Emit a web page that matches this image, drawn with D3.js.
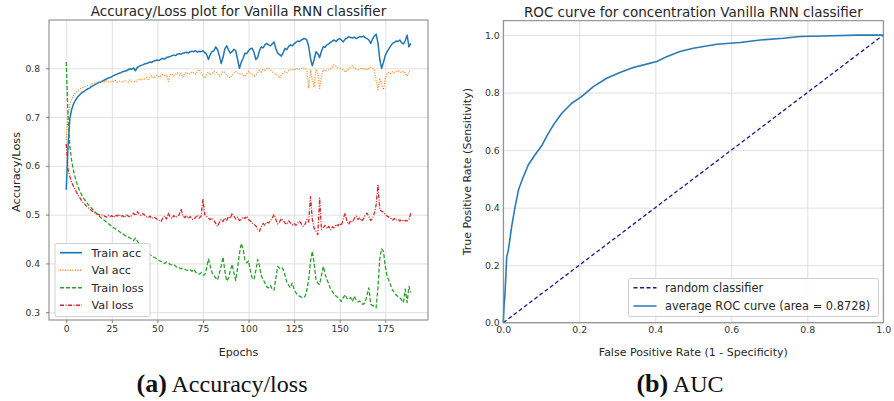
<!DOCTYPE html>
<html>
<head>
<meta charset="utf-8">
<script src="https://cdn.jsdelivr.net/npm/d3@7"></script>
<style>
  body { margin: 0; background: #fff; }
  svg { font-family: "DejaVu Sans", sans-serif; }
  .tick text { fill: #333; }
</style>
</head>
<body>
<div id="chart"></div>
<script>
// Accuracy / loss per epoch
const trainAcc = [
  0.551, 0.640, 0.698, 0.716, 0.727, 0.734, 0.740, 0.744, 0.748, 0.751,
  0.753, 0.756, 0.758, 0.760, 0.763, 0.765, 0.767, 0.769, 0.771, 0.772,
  0.774, 0.776, 0.778, 0.780, 0.781, 0.783, 0.785, 0.787, 0.788, 0.790,
  0.791, 0.793, 0.794, 0.795, 0.797, 0.799, 0.798, 0.801, 0.795, 0.802,
  0.804, 0.806, 0.807, 0.809, 0.810, 0.811, 0.813, 0.812, 0.815, 0.816,
  0.817, 0.816, 0.819, 0.820, 0.819, 0.822, 0.823, 0.824, 0.826, 0.827,
  0.826, 0.829, 0.830, 0.829, 0.831, 0.832, 0.833, 0.831, 0.834, 0.835,
  0.834, 0.836, 0.833, 0.835, 0.834, 0.836, 0.832, 0.829, 0.818, 0.828,
  0.834, 0.836, 0.844, 0.838, 0.826, 0.810, 0.822, 0.840, 0.846, 0.838,
  0.831, 0.834, 0.839, 0.836, 0.818, 0.800, 0.812, 0.820, 0.831, 0.830,
  0.836, 0.840, 0.841, 0.833, 0.818, 0.822, 0.836, 0.844, 0.842, 0.848,
  0.851, 0.848, 0.846, 0.850, 0.854, 0.840, 0.831, 0.828, 0.825, 0.832,
  0.841, 0.838, 0.845, 0.848, 0.846, 0.850, 0.853, 0.856, 0.855, 0.858,
  0.860, 0.861, 0.858, 0.845, 0.820, 0.805, 0.818, 0.834, 0.830, 0.822,
  0.835, 0.844, 0.843, 0.848, 0.850, 0.853, 0.856, 0.858, 0.855, 0.859,
  0.861, 0.858, 0.854, 0.860, 0.862, 0.865, 0.863, 0.862, 0.864, 0.861,
  0.863, 0.865, 0.864, 0.866, 0.863, 0.861, 0.858, 0.851, 0.860, 0.866,
  0.870, 0.852, 0.818, 0.800, 0.812, 0.826, 0.834, 0.840, 0.846, 0.851,
  0.853, 0.856, 0.855, 0.858, 0.852, 0.850, 0.857, 0.868, 0.844, 0.851
];
const valAcc = [
  0.653, 0.705, 0.725, 0.737, 0.744, 0.749, 0.753, 0.756, 0.759, 0.761,
  0.762, 0.764, 0.765, 0.766, 0.768, 0.769, 0.770, 0.770, 0.771, 0.772,
  0.773, 0.772, 0.774, 0.773, 0.771, 0.774, 0.773, 0.775, 0.772, 0.774,
  0.773, 0.771, 0.775, 0.774, 0.772, 0.776, 0.773, 0.774, 0.772, 0.776,
  0.778, 0.776, 0.779, 0.778, 0.781, 0.777, 0.782, 0.785, 0.780, 0.783,
  0.786, 0.782, 0.785, 0.788, 0.784, 0.787, 0.773, 0.786, 0.789, 0.784,
  0.788, 0.791, 0.786, 0.790, 0.782, 0.789, 0.792, 0.787, 0.790, 0.793,
  0.791, 0.788, 0.795, 0.797, 0.790, 0.785, 0.780, 0.788, 0.792, 0.786,
  0.790, 0.794, 0.793, 0.789, 0.784, 0.788, 0.794, 0.791, 0.786, 0.782,
  0.780, 0.785, 0.790, 0.794, 0.791, 0.788, 0.790, 0.786, 0.783, 0.789,
  0.793, 0.790, 0.787, 0.784, 0.786, 0.791, 0.795, 0.792, 0.798, 0.796,
  0.799, 0.800, 0.797, 0.793, 0.791, 0.789, 0.784, 0.780, 0.786, 0.790,
  0.793, 0.791, 0.795, 0.797, 0.796, 0.799, 0.797, 0.800, 0.798, 0.800,
  0.801, 0.800, 0.796, 0.759, 0.797, 0.775, 0.762, 0.798, 0.790, 0.759,
  0.785, 0.797, 0.794, 0.796, 0.797, 0.799, 0.803, 0.807, 0.804, 0.801,
  0.800, 0.798, 0.796, 0.793, 0.795, 0.799, 0.803, 0.805, 0.801, 0.798,
  0.797, 0.799, 0.801, 0.798, 0.800, 0.797, 0.800, 0.802, 0.800, 0.796,
  0.775, 0.756, 0.780, 0.765, 0.756, 0.778, 0.790, 0.792, 0.789, 0.793,
  0.791, 0.794, 0.795, 0.793, 0.791, 0.794, 0.790, 0.784, 0.792, 0.797
];
const trainLoss = [
  0.813, 0.700, 0.640, 0.610, 0.590, 0.575, 0.562, 0.552, 0.544, 0.537,
  0.531, 0.526, 0.521, 0.517, 0.513, 0.509, 0.505, 0.501, 0.497, 0.494,
  0.491, 0.488, 0.485, 0.482, 0.479, 0.476, 0.473, 0.471, 0.468, 0.466,
  0.463, 0.461, 0.458, 0.456, 0.454, 0.452, 0.450, 0.447, 0.452, 0.446,
  0.440, 0.436, 0.432, 0.428, 0.425, 0.422, 0.418, 0.415, 0.413, 0.411,
  0.409, 0.406, 0.404, 0.402, 0.400, 0.403, 0.401, 0.398, 0.397, 0.398,
  0.394, 0.392, 0.391, 0.389, 0.390, 0.388, 0.386, 0.385, 0.387, 0.384,
  0.388, 0.382, 0.380, 0.378, 0.381, 0.376, 0.377, 0.390, 0.409, 0.395,
  0.381, 0.375, 0.370, 0.366, 0.380, 0.395, 0.413, 0.385, 0.364, 0.370,
  0.385, 0.398, 0.380, 0.365, 0.390, 0.420, 0.441, 0.430, 0.408, 0.401,
  0.405, 0.385, 0.370, 0.367, 0.385, 0.408, 0.395, 0.375, 0.367, 0.360,
  0.352, 0.350, 0.355, 0.347, 0.345, 0.370, 0.394, 0.390, 0.392, 0.388,
  0.376, 0.362, 0.355, 0.350, 0.360, 0.347, 0.340, 0.335, 0.333, 0.331,
  0.330, 0.332, 0.345, 0.367, 0.405, 0.425, 0.400, 0.367, 0.360, 0.357,
  0.375, 0.394, 0.378, 0.367, 0.358, 0.347, 0.342, 0.337, 0.333, 0.330,
  0.326, 0.322, 0.330, 0.336, 0.328, 0.326, 0.330, 0.322, 0.333, 0.325,
  0.321, 0.323, 0.318, 0.316, 0.320, 0.335, 0.350, 0.316, 0.314, 0.312,
  0.309, 0.350, 0.410, 0.430, 0.425, 0.395, 0.374, 0.365, 0.355, 0.345,
  0.341, 0.335, 0.332, 0.330, 0.325, 0.320, 0.347, 0.320, 0.353, 0.340
];
const valLoss = [
  0.645, 0.592, 0.578, 0.566, 0.558, 0.551, 0.543, 0.537, 0.531, 0.526,
  0.522, 0.518, 0.514, 0.511, 0.508, 0.505, 0.503, 0.501, 0.500, 0.498,
  0.500, 0.497, 0.495, 0.499, 0.496, 0.498, 0.494, 0.499, 0.497, 0.501,
  0.496, 0.498, 0.494, 0.500, 0.497, 0.495, 0.499, 0.503, 0.498, 0.506,
  0.501, 0.498, 0.502, 0.499, 0.496, 0.494, 0.497, 0.492, 0.495, 0.493,
  0.490, 0.488, 0.486, 0.493, 0.497, 0.491, 0.503, 0.495, 0.492, 0.498,
  0.494, 0.497, 0.500, 0.512, 0.497, 0.494, 0.498, 0.492, 0.496, 0.491,
  0.490, 0.495, 0.499, 0.493, 0.497, 0.531, 0.500, 0.496, 0.493, 0.490,
  0.493, 0.488, 0.482, 0.476, 0.484, 0.490, 0.486, 0.493, 0.488, 0.496,
  0.492, 0.503, 0.497, 0.491, 0.495, 0.488, 0.490, 0.495, 0.492, 0.497,
  0.490, 0.487, 0.483, 0.480, 0.477, 0.471, 0.466, 0.475, 0.482, 0.478,
  0.485, 0.483, 0.487, 0.493, 0.500, 0.490, 0.481, 0.485, 0.492, 0.488,
  0.483, 0.480, 0.487, 0.483, 0.479, 0.482, 0.478, 0.483, 0.486, 0.481,
  0.476, 0.480, 0.490, 0.485, 0.537, 0.490, 0.472, 0.466, 0.459, 0.534,
  0.470, 0.473, 0.478, 0.471, 0.476, 0.469, 0.475, 0.473, 0.480, 0.477,
  0.482, 0.478, 0.492, 0.503, 0.486, 0.480, 0.488, 0.485, 0.492, 0.497,
  0.490, 0.494, 0.487, 0.491, 0.499, 0.503, 0.496, 0.488, 0.492, 0.503,
  0.520, 0.561, 0.510, 0.507, 0.505, 0.501, 0.497, 0.495, 0.493, 0.489,
  0.492, 0.488, 0.491, 0.487, 0.490, 0.486, 0.488, 0.487, 0.490, 0.503
];
const epochs = trainAcc.map((d, i) => i);

// ROC curve points (right panel)
const rocFpr = [0, 0.002, 0.004, 0.007, 0.009, 0.013, 0.022, 0.031, 0.040, 0.053,
  0.066, 0.083, 0.101, 0.114, 0.132, 0.154, 0.180, 0.206, 0.237, 0.272,
  0.307, 0.342, 0.377, 0.404, 0.430, 0.465, 0.500, 0.562, 0.623, 0.676,
  0.737, 0.781, 0.842, 0.930, 1.0];
const rocTpr = [0, 0.060, 0.090, 0.170, 0.230, 0.250, 0.334, 0.403, 0.462, 0.508,
  0.549, 0.583, 0.615, 0.648, 0.688, 0.728, 0.763, 0.786, 0.821, 0.850,
  0.870, 0.887, 0.899, 0.908, 0.925, 0.943, 0.954, 0.968, 0.974, 0.983,
  0.989, 0.995, 0.997, 1.0, 1.0];
const randomX = [0, 1];
const randomY = [0, 1];

const epochTicks = [0, 25, 50, 75, 100, 125, 150, 175];
const lossTicks = [0.3, 0.4, 0.5, 0.6, 0.7, 0.8];
const rocTicks = [0, 0.2, 0.4, 0.6, 0.8, 1.0];

const width = 894, height = 401;
const svg = d3.select("#chart").append("svg")
    .attr("width", width).attr("height", height);

const gridColor = "#dcdcdc", frameColor = "#808080", textColor = "#262626";

// ---------- left panel ----------
const L = {left: 49, right: 428, top: 20, bottom: 320};
const x = d3.scaleLinear().domain([-9.45, 198.45]).range([L.left, L.right]);
const y = d3.scaleLinear().domain([0.284, 0.899]).range([L.bottom, L.top]);

// grid
svg.append("g")
    .attr("transform", `translate(0,${L.bottom})`)
    .call(d3.axisBottom(x).tickValues(epochTicks).tickSize(-(L.bottom - L.top)).tickFormat(""))
    .call(g => g.select(".domain").remove())
    .call(g => g.selectAll("line").attr("stroke", gridColor).attr("stroke-width", 0.9));
svg.append("g")
    .attr("transform", `translate(${L.left},0)`)
    .call(d3.axisLeft(y).tickValues(lossTicks).tickSize(-(L.right - L.left)).tickFormat(""))
    .call(g => g.select(".domain").remove())
    .call(g => g.selectAll("line").attr("stroke", gridColor).attr("stroke-width", 0.9));

// axes
svg.append("g")
    .attr("transform", `translate(0,${L.bottom})`)
    .call(d3.axisBottom(x).tickValues(epochTicks).tickSize(3).tickPadding(2.5))
    .call(g => g.select(".domain").remove())
    .call(g => g.selectAll("line").attr("stroke", frameColor))
    .call(g => g.selectAll("text").attr("font-size", 9.2).attr("font-family", "DejaVu Sans"));
svg.append("g")
    .attr("transform", `translate(${L.left},0)`)
    .call(d3.axisLeft(y).tickValues(lossTicks).tickFormat(d3.format(".1f")).tickSize(3).tickPadding(6))
    .call(g => g.select(".domain").remove())
    .call(g => g.selectAll("line").attr("stroke", frameColor))
    .call(g => g.selectAll("text").attr("font-size", 9.2).attr("font-family", "DejaVu Sans"));

const series = [
  {name: "Train acc", values: trainAcc, color: "#1f77b4", dash: null, w: 1.5},
  {name: "Val acc", values: valAcc, color: "#ff7f0e", dash: "1,1.5", w: 1.2},
  {name: "Train loss", values: trainLoss, color: "#2ca02c", dash: "4,2", w: 1.3},
  {name: "Val loss", values: valLoss, color: "#d62728", dash: "4,1.5,1,1.5", w: 1.3}
];

const line = d3.line().x((d, i) => x(epochs[i])).y(d => y(d));
svg.append("g").selectAll("path")
    .data(series)
    .join("path")
    .attr("d", d => line(d.values))
    .attr("fill", "none")
    .attr("stroke", d => d.color)
    .attr("stroke-width", d => d.w)
    .attr("stroke-dasharray", d => d.dash)
    .attr("stroke-linejoin", "round");

svg.append("rect")
    .attr("x", L.left).attr("y", L.top)
    .attr("width", L.right - L.left).attr("height", L.bottom - L.top)
    .attr("fill", "none").attr("stroke", frameColor).attr("stroke-width", 1);

// legend
const legL = svg.append("g");
legL.append("rect")
    .attr("x", 55).attr("y", 243.5).attr("width", 95).attr("height", 73)
    .attr("rx", 2).attr("fill", "#fff").attr("fill-opacity", 0.85)
    .attr("stroke", "#d0d0d0");
series.forEach((s, i) => {
  const yy = 252.7 + i * 17.5;
  legL.append("line")
      .attr("x1", 60).attr("x2", 82).attr("y1", yy).attr("y2", yy)
      .attr("stroke", s.color).attr("stroke-width", s.w + 0.2)
      .attr("stroke-dasharray", s.dash);
  legL.append("text")
      .attr("x", 91.5).attr("y", yy + 4)
      .attr("font-size", 11.2).attr("fill", textColor)
      .text(s.name);
});

svg.append("text")
    .attr("x", (L.left + L.right) / 2).attr("y", 16)
    .attr("text-anchor", "middle").attr("font-size", 13.5).attr("fill", textColor)
    .text("Accuracy/Loss plot for Vanilla RNN classifier");
svg.append("text")
    .attr("transform", `translate(19.5,${(L.top + L.bottom) / 2 + 2}) rotate(-90)`)
    .attr("text-anchor", "middle").attr("font-size", 11.3).attr("fill", textColor)
    .text("Accuracy/Loss");
svg.append("text")
    .attr("x", (L.left + L.right) / 2).attr("y", 356)
    .attr("text-anchor", "middle").attr("font-size", 11).attr("fill", textColor)
    .text("Epochs");

// ---------- right panel ----------
const R = {left: 503.3, right: 883.3, top: 20.7, bottom: 322.7};
const x2 = d3.scaleLinear().domain([0, 1]).range([R.left, R.right]);
const y2 = d3.scaleLinear().domain([0, 1.05]).range([R.bottom, R.top]);

svg.append("g")
    .attr("transform", `translate(0,${R.bottom})`)
    .call(d3.axisBottom(x2).tickValues(rocTicks).tickSize(-(R.bottom - R.top)).tickFormat(""))
    .call(g => g.select(".domain").remove())
    .call(g => g.selectAll("line").attr("stroke", gridColor).attr("stroke-width", 0.9));
svg.append("g")
    .attr("transform", `translate(${R.left},0)`)
    .call(d3.axisLeft(y2).tickValues(rocTicks).tickSize(-(R.right - R.left)).tickFormat(""))
    .call(g => g.select(".domain").remove())
    .call(g => g.selectAll("line").attr("stroke", gridColor).attr("stroke-width", 0.9));

svg.append("g")
    .attr("transform", `translate(0,${R.bottom})`)
    .call(d3.axisBottom(x2).tickValues(rocTicks).tickFormat(d3.format(".1f")).tickSize(0).tickPadding(4))
    .call(g => g.select(".domain").remove())
    .call(g => g.selectAll("text").attr("font-size", 9.4).attr("font-family", "DejaVu Sans"));
svg.append("g")
    .attr("transform", `translate(${R.left},0)`)
    .call(d3.axisLeft(y2).tickValues(rocTicks).tickFormat(d3.format(".1f")).tickSize(0).tickPadding(3.5))
    .call(g => g.select(".domain").remove())
    .call(g => g.selectAll("text").attr("font-size", 9.4).attr("font-family", "DejaVu Sans"));

const line2 = d3.line();
svg.append("path")
    .attr("d", line2(randomX.map((d, i) => [x2(d), y2(randomY[i])])))
    .attr("fill", "none").attr("stroke", "#1a1a8c").attr("stroke-width", 1.3)
    .attr("stroke-dasharray", "4,2.5");
svg.append("path")
    .attr("d", line2(rocFpr.map((d, i) => [x2(d), y2(rocTpr[i])])))
    .attr("fill", "none").attr("stroke", "#2a7ab8").attr("stroke-width", 1.6)
    .attr("stroke-linejoin", "round");

svg.append("rect")
    .attr("x", R.left).attr("y", R.top)
    .attr("width", R.right - R.left).attr("height", R.bottom - R.top)
    .attr("fill", "none").attr("stroke", frameColor).attr("stroke-width", 1);

const legR = svg.append("g");
legR.append("rect")
    .attr("x", 628.5).attr("y", 278.5).attr("width", 250).attr("height", 38)
    .attr("rx", 2).attr("fill", "#fff").attr("fill-opacity", 0.85)
    .attr("stroke", "#d0d0d0");
[
  {name: "random classifier", color: "#1a1a8c", dash: "4,2.5"},
  {name: "average ROC curve (area = 0.8728)", color: "#2a7ab8", dash: null}
].forEach((s, i) => {
  const yy = 287.7 + i * 18.3;
  legR.append("line")
      .attr("x1", 633.5).attr("x2", 656.5).attr("y1", yy).attr("y2", yy)
      .attr("stroke", s.color).attr("stroke-width", 1.5)
      .attr("stroke-dasharray", s.dash);
  legR.append("text")
      .attr("x", 665).attr("y", yy + 4)
      .attr("font-size", 11.4).attr("fill", textColor)
      .text(s.name);
});

svg.append("text")
    .attr("x", (R.left + R.right) / 2).attr("y", 16.5)
    .attr("text-anchor", "middle").attr("font-size", 13.5).attr("fill", textColor)
    .text("ROC curve for concentration Vanilla RNN classifier");
svg.append("text")
    .attr("transform", `translate(471,${(R.top + R.bottom) / 2}) rotate(-90)`)
    .attr("text-anchor", "middle").attr("font-size", 11).attr("fill", textColor)
    .text("True Positive Rate (Sensitivity)");
svg.append("text")
    .attr("x", (R.left + R.right) / 2).attr("y", 356)
    .attr("text-anchor", "middle").attr("font-size", 11).attr("fill", textColor)
    .text("False Positive Rate (1 - Specificity)");

// ---------- captions ----------
const cap = [{x: 222, label: "(a)", text: " Accuracy/loss"}, {x: 680, label: "(b)", text: " AUC"}];
cap.forEach(c => {
  const t = svg.append("text")
      .attr("x", c.x).attr("y", 392)
      .attr("text-anchor", "middle")
      .attr("font-family", "'Liberation Serif', 'Times New Roman', serif")
      .attr("font-size", 24).attr("fill", "#111");
  t.append("tspan").attr("font-weight", "bold").attr("font-size", 26).text(c.label);
  t.append("tspan").text(c.text);
});
</script>
</body>
</html>
